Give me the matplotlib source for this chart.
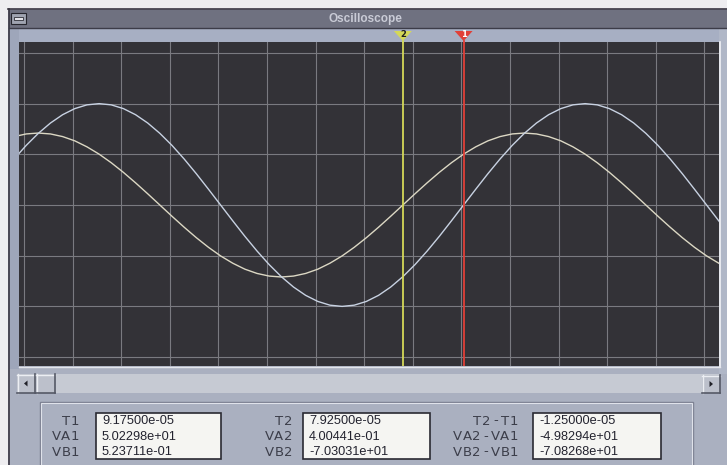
import numpy as np
import matplotlib
matplotlib.use("Agg")
import matplotlib.pyplot as plt
from matplotlib.patches import Rectangle, Polygon
from matplotlib.lines import Line2D
import matplotlib.transforms as mtransforms

time_us = np.arange(-0.75, 147.0, 2.5)  # sample instants, microseconds

channel_a_v = [67.5, 70.1, 71.0, 70.1, 67.5, 63.3, 57.4, 50.2, 41.7, 32.2, 21.9, 11.1, 0.0,
               -11.1, -21.9, -32.2, -41.7, -50.2, -57.4, -63.3, -67.5, -70.1, -71.0,
               -70.1, -67.5, -63.3, -57.4, -50.2, -41.7, -32.2, -21.9, -11.1, 0.0,
               11.1, 21.9, 32.2, 41.7, 50.2, 57.4, 63.3, 67.5, 70.1, 71.0,
               70.1, 67.5, 63.3, 57.4, 50.2, 41.7, 32.2, 21.9, 11.1, 0.0,
               -11.1, -21.9, -32.2, -41.7, -50.2, -57.4, -63.3]

channel_b_v = [45.4, 58.8, 70.7, 80.9, 89.1, 95.1, 98.8, 100.0,
               98.8, 95.1, 89.1, 80.9, 70.7, 58.8, 45.4, 30.9, 15.6, 0.0,
               -15.6, -30.9, -45.4, -58.8, -70.7, -80.9, -89.1, -95.1, -98.8, -100.0,
               -98.8, -95.1, -89.1, -80.9, -70.7, -58.8, -45.4, -30.9, -15.6, 0.0,
               15.6, 30.9, 45.4, 58.8, 70.7, 80.9, 89.1, 95.1, 98.8, 100.0,
               98.8, 95.1, 89.1, 80.9, 70.7, 58.8, 45.4, 30.9, 15.6, 0.0,
               -15.6, -30.9]

cursor_times_us = [91.75, 79.25]   # cursor 1 (T1), cursor 2 (T2)
cursor_names = ["1", "2"]

readout_labels = [["T1", "VA1", "VB1"],
                  ["T2", "VA2", "VB2"],
                  ["T2-T1", "VA2-VA1", "VB2-VB1"]]
readout_values = [["9.17500e-05", "5.02298e+01", "5.23711e-01"],
                  ["7.92500e-05", "4.00441e-01", "-7.03031e+01"],
                  ["-1.25000e-05", "-4.98294e+01", "-7.08268e+01"]]

time_div_us = 10.0
volt_div = 50.0

# ---------------- figure / window chrome ----------------
W, H = 727, 465
fig = plt.figure(figsize=(W / 100, H / 100), dpi=100)
fig.patch.set_facecolor('#eeedf0')


def rect(x, y, w, h, fc, ec='none', lw=0.0, z=1):
    fig.add_artist(Rectangle((x / W, 1 - (y + h) / H), w / W, h / H,
                             transform=fig.transFigure, facecolor=fc,
                             edgecolor=ec, linewidth=lw, zorder=z))


def line(x0, y0, x1, y1, color, lw=1.0, z=2):
    fig.add_artist(Line2D([x0 / W, x1 / W], [1 - y0 / H, 1 - y1 / H],
                          transform=fig.transFigure, color=color, lw=lw, zorder=z))


def raised(x, y, w, h, fc='#bcc0cb'):
    rect(x, y, w, h, fc, z=3)
    line(x, y + 0.5, x + w, y + 0.5, '#eceef3', 1, 4)
    line(x + 0.5, y, x + 0.5, y + h, '#eceef3', 1, 4)
    line(x, y + h - 0.5, x + w, y + h - 0.5, '#555966', 1.2, 4)
    line(x + w - 0.5, y, x + w - 0.5, y + h, '#555966', 1.2, 4)


# window body
rect(8, 9, 719, 456, '#aab0c0', z=0)
line(8.5, 9, 8.5, 465, '#3a3642', 1.2)
line(8, 9.5, 727, 9.5, '#3a3642', 1.2)
# title bar
rect(9, 10, 718, 18, '#6f7180')
line(9, 28.5, 727, 28.5, '#3c3c48', 1.0)
rect(11, 13, 15, 11, '#9fa3b0', ec='#26262e', lw=0.8, z=3)
rect(14, 17, 9, 3, '#e4e4ea', ec='#303038', lw=0.6, z=4)
fig.text(365 / W, 1 - 19 / H, 'Oscilloscope', ha='center', va='center',
         color='#c9cbd6', fontsize=8.5, fontweight='bold', family='Liberation Sans', zorder=5)
# strip above the screen and frame around it
rect(9, 29, 718, 13, '#a7afc3')
rect(9, 29, 10, 340, '#9ea6ba')
rect(719, 29, 8, 345, '#b0b7c7')
line(720, 42, 720, 367, '#f2f2f6', 1.2)
line(19, 367, 720, 367, '#e4e6ec', 1.0)

# scroll bar
rect(17, 374, 703, 19, '#c6cad3', z=2)
raised(17, 374, 18, 19)
raised(36, 374, 19, 19)
raised(702, 375, 18, 18)
fig.add_artist(Polygon([[(26 - 2) / W, 1 - 383.5 / H], [(26 + 1.5) / W, 1 - 380.5 / H],
                        [(26 + 1.5) / W, 1 - 386.5 / H]], closed=True,
                       transform=fig.transFigure, facecolor='#202028', zorder=5))
fig.add_artist(Polygon([[(711 + 2) / W, 1 - 384 / H], [(711 - 1.5) / W, 1 - 381 / H],
                        [(711 - 1.5) / W, 1 - 387 / H]], closed=True,
                       transform=fig.transFigure, facecolor='#202028', zorder=5))

# read-out group box
rect(40, 402, 653, 70, 'none', ec='#7c8092', lw=1.0, z=2)
rect(41, 403, 651, 70, 'none', ec='#dfe2ea', lw=0.8, z=2)

box_left = [96, 303, 533]
box_right = [221, 430, 661]
label_right = [80, 293, 519]
row_y = [421, 436.5, 452]
pitch = 9.4
for g in range(3):
    rect(box_left[g], 413, box_right[g] - box_left[g], 46, '#f5f5f2',
         ec='#2a2a32', lw=1.2, z=3)
    for r in range(3):
        lab = readout_labels[g][r]
        n = len(lab)
        for i, ch in enumerate(lab):
            cx = label_right[g] - pitch * (n - i - 0.5)
            fig.text(cx / W, 1 - row_y[r] / H, ch, ha='center', va='center',
                     color='#3c3e4a', fontsize=9.5, family='DejaVu Sans', zorder=5)
        fig.text((box_left[g] + 6) / W, 1 - row_y[r] / H, readout_values[g][r],
                 ha='left', va='center', color='#22222e', fontsize=9.2,
                 family='Liberation Sans', zorder=5)

# ---------------- oscilloscope screen ----------------
ax = fig.add_axes([19 / W, 1 - 366 / H, 700 / W, 324 / H])
ax.set_facecolor('#333237')
ax.set_xlim(0.27, 144.3)
ax.set_ylim(-158.8, 160.8)
ax.set_xticks([1.3 + time_div_us * k for k in range(15)])
ax.set_yticks([volt_div * k for k in range(-3, 4)])
ax.tick_params(length=0, labelbottom=False, labelleft=False)
ax.grid(True, color='#7a7a80', lw=0.8)
ax.set_axisbelow(True)
for s in ax.spines.values():
    s.set_visible(False)

ax.plot(time_us, channel_a_v, color='#dcd8c4', lw=1.0, zorder=3)
ax.plot(time_us, channel_b_v, color='#c8d2e2', lw=1.0, zorder=3)

cursor_colors = ['#e04038', '#d4d858']
cursor_text = ['#ffffff', '#202020']
for t, name, c, tc in zip(cursor_times_us, cursor_names, cursor_colors, cursor_text):
    ax.axvline(t, color=c, lw=1.3, zorder=4)
    px = ax.transData.transform((t, 0.0))[0]
    ident = mtransforms.IdentityTransform()
    y_top = H - 31
    y_tip = H - 41
    fig.add_artist(Line2D([px, px], [y_tip, H - 42], transform=ident, color=c, lw=1.3, zorder=5))
    fig.add_artist(Polygon([[px - 9, y_top], [px + 9, y_top], [px, y_tip]], closed=True,
                           transform=ident, facecolor=c, edgecolor='none', zorder=5))
    fig.text(px / W, (y_top - 3.5) / H, name, ha='center', va='center',
             fontsize=6, fontweight='bold', color=tc, zorder=6)

fig.savefig('out.png', dpi=100, facecolor=fig.get_facecolor())
